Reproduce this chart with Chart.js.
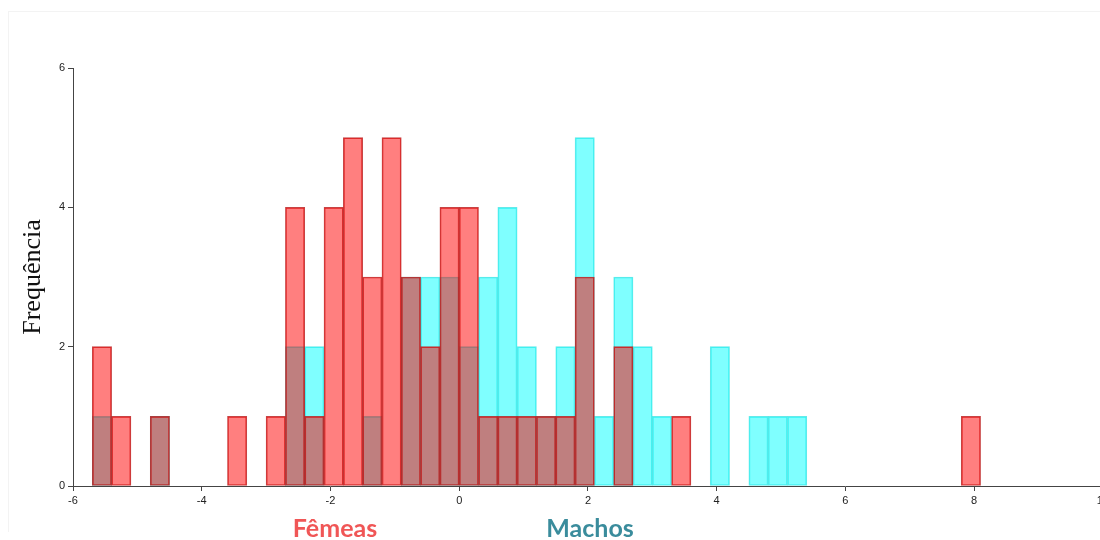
<!DOCTYPE html>
<html>
<head>
<meta charset="utf-8">
<script src="https://cdn.jsdelivr.net/npm/chart.js@4"></script>
<style>
  html, body { margin: 0; padding: 0; background: #fff; overflow: hidden; width: 1100px; height: 540px; }
  #frame { position: absolute; left: 8px; top: 11px; width: 1100px; height: 520px; border-left: 1px solid #f3f3f3; border-top: 1px solid #f3f3f3; }
  #wrap { position: absolute; left: 0; top: 0; width: 1112px; height: 540px; }
  .lbl { position: absolute; top: 512px; font-family: Lato, "Open Sans", sans-serif; font-weight: bold; font-size: 25px; transform: translateX(-50%); white-space: nowrap; }
</style>
</head>
<body>
<div id="frame"></div>
<div id="wrap"><canvas id="hist"></canvas></div>
<div class="lbl" style="left:335px;color:#f05656;">Fêmeas</div>
<div class="lbl" style="left:590px;color:#3a8c9c;">Machos</div>
<script>
// bin centres (bin width 0.3)
var binCenters = [-5.55, -5.25, -4.95, -4.65, -4.35, -4.05, -3.75, -3.45, -3.15, -2.85,
  -2.55, -2.25, -1.95, -1.65, -1.35, -1.05, -0.75, -0.45, -0.15, 0.15,
  0.45, 0.75, 1.05, 1.35, 1.65, 1.95, 2.25, 2.55, 2.85, 3.15,
  3.45, 3.75, 4.05, 4.35, 4.65, 4.95, 5.25, 5.55, 5.85, 6.15,
  6.45, 6.75, 7.05, 7.35, 7.65, 7.95];

var femeas = [2, 1, 0, 1, 0, 0, 0, 1, 0, 1,
  4, 1, 4, 5, 3, 5, 3, 2, 4, 4,
  1, 1, 1, 1, 1, 3, 0, 2, 0, 0,
  1, 0, 0, 0, 0, 0, 0, 0, 0, 0,
  0, 0, 0, 0, 0, 1];

var machos = [1, 0, 0, 1, 0, 0, 0, 0, 0, 0,
  2, 2, 0, 0, 1, 0, 3, 3, 3, 2,
  3, 4, 2, 1, 2, 5, 1, 3, 2, 1,
  0, 0, 2, 0, 1, 1, 1, 0, 0, 0,
  0, 0, 0, 0, 0, 0];

var xTicks = [-6, -4, -2, 0, 2, 4, 6, 8, 10];
var yTicks = [0, 2, 4, 6];

function toPoints(arr) {
  return arr.map(function(v, i) { return { x: binCenters[i], y: v > 0 ? v : null }; });
}

var ctx = document.getElementById('hist').getContext('2d');
var chart = new Chart(ctx, {
  type: 'bar',
  data: {
    datasets: [{
      label: 'Fêmeas',
      data: toPoints(femeas),
      backgroundColor: 'rgba(255, 0, 0, 0.5)',
      borderColor: 'rgba(185, 20, 20, 0.8)',
      borderWidth: 1,
      borderSkipped: false,
      grouped: false,
      barPercentage: 1,
      categoryPercentage: 1
    }, {
      label: 'Machos',
      data: toPoints(machos),
      backgroundColor: 'rgba(0, 255, 255, 0.5)',
      borderColor: 'rgba(50, 225, 225, 0.75)',
      borderWidth: 1,
      borderSkipped: false,
      grouped: false,
      barPercentage: 1,
      categoryPercentage: 1
    }]
  },
  options: {
    responsive: true,
    maintainAspectRatio: false,
    animation: false,
    layout: { padding: { left: 18, top: 68, right: 7, bottom: 30 } },
    plugins: {
      legend: { display: false },
      tooltip: { enabled: false }
    },
    scales: {
      x: {
        type: 'linear',
        offset: false,
        min: -6,
        max: 10,
        afterBuildTicks: function(axis) { axis.ticks = xTicks.map(function(v) { return { value: v }; }); },
        afterFit: function(axis) { axis.height = 24; },
        grid: { display: true, offset: false, drawOnChartArea: false, drawTicks: true, tickLength: 5, color: '#444' },
        border: { color: '#444', width: 1 },
        ticks: { color: '#222', font: { family: 'Liberation Sans', size: 11 }, padding: 3, maxRotation: 0 }
      },
      y: {
        min: 0,
        max: 6,
        afterBuildTicks: function(axis) { axis.ticks = yTicks.map(function(v) { return { value: v }; }); },
        afterFit: function(axis) { axis.width = 55; },
        grid: { display: true, drawOnChartArea: false, drawTicks: true, tickLength: 5, color: '#444' },
        border: { color: '#444', width: 1 },
        ticks: { color: '#222', font: { family: 'Liberation Sans', size: 11 }, padding: 3 },
        title: {
          display: true,
          text: 'Frequência',
          color: '#111',
          font: { family: 'Liberation Serif', size: 26 },
          padding: 0
        }
      }
    }
  }
});
</script>
</body>
</html>
